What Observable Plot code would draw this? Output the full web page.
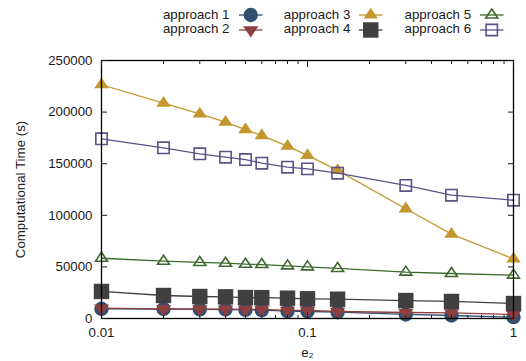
<!DOCTYPE html>
<html>
<head>
<meta charset="utf-8">
<script src="https://cdn.jsdelivr.net/npm/d3@7"></script>
<script src="https://cdn.jsdelivr.net/npm/@observablehq/plot@0.6"></script>
<style>
  html, body { margin: 0; padding: 0; background: #fff; }
  #wrap { position: relative; width: 526px; height: 361px; font-family: "Liberation Sans", Arial, Helvetica, sans-serif; }
  #legend { position: absolute; left: 0; top: 0; width: 526px; height: 40px; pointer-events: none; }
  .lg-item { position: absolute; height: 14px; }
  .lg-text { position: absolute; font-size: 13.3px; line-height: 14px; color: #1a1a1a; white-space: nowrap; text-align: right; width: 80px; }
  .lg-sym { position: absolute; overflow: visible; }
</style>
</head>
<body>
<div id="wrap"><div id="legend"></div></div>
<script>
// ---- data ----
const e2 = [0.01, 0.02, 0.03, 0.04, 0.05, 0.06, 0.08, 0.1, 0.14, 0.3, 0.5, 1];
const approach1 = [9400, 9200, 8900, 8700, 8400, 8200, 7100, 6800, 6100, 3900, 2900, 1300];
const approach2 = [10000, 9400, 9100, 9000, 8900, 8800, 7800, 7800, 6800, 5800, 5400, 3900];
const approach3 = [226500, 208600, 198300, 190200, 183100, 177300, 167000, 158000, 143500, 106300, 81700, 57800];
const approach4 = [26200, 22300, 21300, 21000, 20300, 20200, 19700, 19100, 18700, 17400, 16500, 14500];
const approach5 = [58400, 55500, 54300, 53600, 52600, 52300, 51000, 50000, 48500, 44900, 43600, 42000];
const approach6 = [174100, 165400, 159600, 156300, 154000, 150500, 146600, 145000, 140800, 128900, 119500, 114600];
const seriesNames = ["approach 1", "approach 2", "approach 3", "approach 4", "approach 5", "approach 6"];
const yTicks = [0, 50000, 100000, 150000, 200000, 250000];
const xTicks = [0.01, 0.1, 1];
const xMinorTicks = [0.02,0.03,0.04,0.05,0.06,0.07,0.08,0.09,0.2,0.3,0.4,0.5,0.6,0.7,0.8,0.9];

// ---- symbols (gnuplot-like triangles) ----
const triUp = { draw(ctx, size) { const r = Math.sqrt(size / Math.PI); ctx.moveTo(0, -r); ctx.lineTo(-r, 0.5 * r); ctx.lineTo(r, 0.5 * r); ctx.closePath(); } };
const triDown = { draw(ctx, size) { const r = Math.sqrt(size / Math.PI); ctx.moveTo(0, r); ctx.lineTo(-r, -0.5 * r); ctx.lineTo(r, -0.5 * r); ctx.closePath(); } };

const styles = [
  { values: approach1, color: "#31506f", symbol: "circle", r: 7.2, filled: true },
  { values: approach2, color: "#8d3e3e", symbol: triDown, r: 7.6, filled: true },
  { values: approach3, color: "#c4962e", symbol: triUp, r: 7.2, filled: true },
  { values: approach4, color: "#404040", symbol: "square", r: 8.7, filled: true },
  { values: approach5, color: "#3e6a2f", symbol: triUp, r: 6.0, filled: false },
  { values: approach6, color: "#5b5187", symbol: "square", r: 6.4, filled: false }
];

const marks = [];
styles.forEach((s, i) => {
  const rows = e2.map((x, j) => ({ x, y: s.values[j], name: seriesNames[i] }));
  marks.push(Plot.line(rows, { x: "x", y: "y", stroke: s.color, strokeWidth: 1.3 }));
  marks.push(Plot.dot(rows, {
    x: "x", y: "y", r: s.r, symbol: () => s.symbol,
    fill: s.filled ? s.color : "none",
    stroke: s.filled ? "none" : s.color,
    strokeWidth: s.filled ? 0 : 1.6
  }));
});

const axisColor = "#1a1a1a";
const chart = Plot.plot({
  width: 526,
  height: 361,
  marginTop: 60,
  marginBottom: 43,
  marginLeft: 101,
  marginRight: 13,
  style: { fontFamily: '"Liberation Sans", Arial, Helvetica, sans-serif', fontSize: "13.3px", color: axisColor, background: "#fff" },
  x: { type: "log", domain: [0.01, 1] },
  y: { domain: [0, 250000] },
  symbol: { type: "identity" },
  marks: [
    ...marks,
    Plot.frame({ stroke: "#000", strokeWidth: 1.3 }),
    Plot.axisY(yTicks, { anchor: "left", tickSize: -6, tickPadding: 15, tickFormat: d => String(d), label: "Computational Time (s)", labelAnchor: "center", labelArrow: false, labelOffset: 86, fontSize: "13.3px" }),
    Plot.axisY(yTicks, { anchor: "right", tickSize: -6, fill: "none", label: null }),
    Plot.axisX(xTicks, { anchor: "bottom", tickSize: -6, tickPadding: 15, tickFormat: d => String(d), label: "e₂", labelAnchor: "center", labelArrow: false, labelOffset: 38, fontSize: "13.3px" }),
    Plot.axisX(xMinorTicks, { anchor: "bottom", tickSize: -3, fill: "none", label: null }),
    Plot.axisX(xTicks, { anchor: "top", tickSize: -6, fill: "none", label: null }),
    Plot.axisX(xMinorTicks, { anchor: "top", tickSize: -3, fill: "none", label: null })
  ]
});
document.getElementById("wrap").prepend(chart);

// ---- legend ----
const legend = document.getElementById("legend");
styles.forEach((s, i) => {
  const col = Math.floor(i / 2), row = i % 2;
  const textRight = 229.5 + col * 120.8;
  const cy = 15 + row * 14.5;
  const t = document.createElement("div");
  t.className = "lg-text";
  t.textContent = seriesNames[i];
  t.style.left = (textRight - 80) + "px";
  t.style.top = (cy - 7.5) + "px";
  legend.appendChild(t);
  const lx = textRight + 9, lw = 23.5;
  const svg = d3.create("svg").attr("class", "lg-sym")
    .attr("width", lw).attr("height", 20)
    .style("left", lx + "px").style("top", (cy - 10) + "px");
  svg.append("line").attr("x1", 0).attr("x2", lw).attr("y1", 10).attr("y2", 10)
    .attr("stroke", s.color).attr("stroke-width", 1.3);
  const symType = s.symbol === "circle" ? d3.symbolCircle : s.symbol === "square" ? d3.symbolSquare : s.symbol;
  svg.append("path").attr("transform", `translate(${lw / 2},10)`)
    .attr("d", d3.symbol(symType, Math.PI * s.r * s.r)())
    .attr("fill", s.filled ? s.color : "none")
    .attr("stroke", s.filled ? "none" : s.color)
    .attr("stroke-width", s.filled ? 0 : 1.6);
  legend.appendChild(svg.node());
});
</script>
</body>
</html>
